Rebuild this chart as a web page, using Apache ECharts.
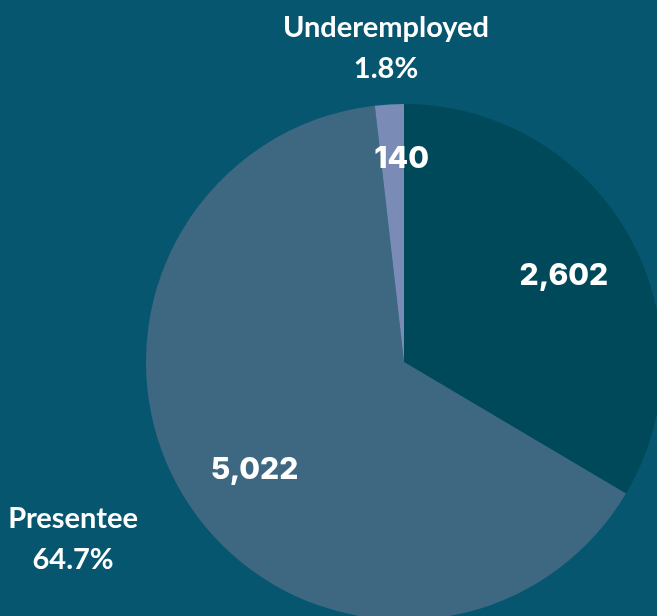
<!DOCTYPE html>
<html>
<head>
<meta charset="utf-8">
<script src="https://cdn.jsdelivr.net/npm/echarts@6/dist/echarts.min.js"></script>
<style>
html,body{margin:0;padding:0;background:#07566f;}
#chart{width:657px;height:616px;}
</style>
</head>
<body>
<div id="chart"></div>
<script>
const categories = ['Employed', 'Presentee', 'Underemployed'];
const values = [2602, 5022, 140];
const colors = ['#00495a', '#3e6882', '#7a8cb5'];
const showOuter = [false, true, true];

const chart = echarts.init(document.getElementById('chart'), null, {renderer: 'canvas'});
const CX = 404, CY = 362, R = 258;

const baseData = categories.map((c, i) => ({name: c, value: values[i], itemStyle: {color: colors[i]}}));

const innerOffsets = {Employed: [0, 5], Presentee: [5, 8], Underemployed: [8, -19]};
const innerData = categories.map((c, i) => ({name: c, value: values[i], label: {offset: innerOffsets[c]}}));

const outerOffsets = {Presentee: [-64, 4], Underemployed: [0, 4]};
const outerData = categories.map((c, i) => {
  const d = {name: c, value: values[i]};
  d.label = showOuter[i] ? {offset: outerOffsets[c] || [0, 0]} : {show: false};
  return d;
});

chart.setOption({
  backgroundColor: '#07566f',
  animation: false,
  series: [
    {
      type: 'pie',
      center: [CX, CY],
      radius: [0, R],
      startAngle: 90,
      clockwise: true,
      silent: true,
      label: {show: false},
      labelLine: {show: false},
      data: baseData
    },
    {
      type: 'pie',
      center: [CX, CY],
      radius: [104, R],
      startAngle: 90,
      clockwise: true,
      silent: true,
      itemStyle: {color: 'rgba(0,0,0,0)'},
      label: {
        show: true,
        position: 'inside',
        color: '#ffffff',
        fontFamily: 'Inter',
        fontWeight: 800,
        fontSize: 30,
        formatter: p => p.value.toLocaleString('en-US')
      },
      labelLine: {show: false},
      data: innerData
    },
    {
      type: 'pie',
      center: [CX, CY],
      radius: [290, 340],
      startAngle: 90,
      clockwise: true,
      silent: true,
      percentPrecision: 1,
      itemStyle: {color: 'rgba(0,0,0,0)'},
      label: {
        show: true,
        position: 'inside',
        color: '#ffffff',
        fontFamily: 'Lato',
        fontWeight: 'bold',
        fontSize: 29,
        lineHeight: 41,
        align: 'center',
        formatter: '{b}\n{d}%'
      },
      labelLine: {show: false},
      data: outerData
    }
  ]
});
</script>
</body>
</html>
